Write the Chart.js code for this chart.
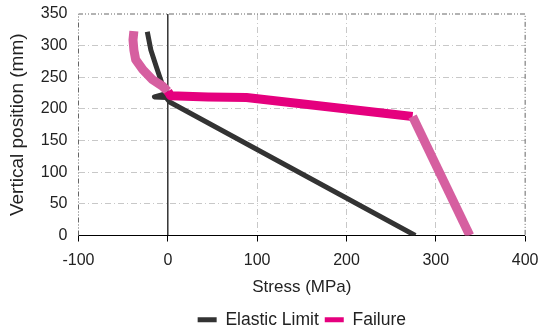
<!DOCTYPE html>
<html>
<head>
<meta charset="utf-8">
<script src="https://cdn.jsdelivr.net/npm/chart.js@4"></script>
<style>
  html, body { margin: 0; padding: 0; background: #fff; }
  #wrap { width: 548px; height: 335px; }
</style>
</head>
<body>
<div id="wrap"><canvas id="chart"></canvas></div>
<script>
// data (stress in MPa, vertical position in mm)
const elasticStress = [-23, -19, -13, -8, -4, -2, -15, -2, 2, 277];
const elasticPos    = [322, 293, 267, 246, 230, 224, 219, 218, 211, 0];

const failureStress = [-38, -39, -38, -36, -28, -17, -6, 0, 3, 45, 88, 274, 338];
const failurePos    = [323, 309, 293, 278, 262, 246, 236, 228, 221, 219, 218, 188, 0];

const seriesNames = ['Elastic Limit', 'Failure'];
const xTicks = [-100, 0, 100, 200, 300, 400];
const yTicks = [0, 50, 100, 150, 200, 250, 300, 350];

const FONT = "'Liberation Sans', Arial, Helvetica, sans-serif";
const TXT = '#222';
const PINK = '#E5007E';
const PINK_SOFT = '#D65FA0';
const DARK = '#333333';

const toPoints = (xs, ys) => xs.map((x, i) => ({ x: x, y: ys[i] }));

// zero lines + dash-dot frame, drawn under the data lines
const framePlugin = {
    id: 'frame',
    beforeDatasetsDraw(chart) {
        const { ctx, chartArea: a, scales: { x, y } } = chart;
        ctx.save();
        ctx.strokeStyle = '#666';
        ctx.lineWidth = 1;
        ctx.setLineDash([5, 2, 1, 2, 1, 2]);
        ctx.beginPath();
        ctx.moveTo(a.left, y.getPixelForValue(0));
        ctx.lineTo(a.left, a.top);
        ctx.lineTo(a.right, a.top);
        ctx.lineTo(a.right, y.getPixelForValue(0));
        ctx.stroke();
        ctx.setLineDash([]);
        ctx.strokeStyle = '#000';
        ctx.lineWidth = 1.2;
        const x0 = x.getPixelForValue(0), y0 = y.getPixelForValue(0);
        ctx.beginPath();
        ctx.moveTo(a.left, y0); ctx.lineTo(a.right, y0);
        ctx.moveTo(x0, a.top); ctx.lineTo(x0, y0);
        ctx.stroke();
        ctx.restore();
    }
};

new Chart(document.getElementById('chart'), {
    type: 'scatter',
    data: {
        datasets: [
            {
                label: seriesNames[0],
                data: toPoints(elasticStress, elasticPos),
                showLine: true,
                borderColor: DARK,
                backgroundColor: DARK,
                legendColor: DARK,
                borderWidth: 5,
                pointRadius: 0,
                tension: 0,
                borderJoinStyle: 'round',
                order: 1
            },
            {
                label: seriesNames[1],
                data: toPoints(failureStress, failurePos),
                showLine: true,
                borderColor: PINK,
                backgroundColor: PINK,
                legendColor: PINK,
                borderWidth: 9,
                pointRadius: 0,
                tension: 0,
                borderJoinStyle: 'round',
                segment: {
                    // curved top part and steep lower part look lighter in the picture
                    borderColor: c => (c.p0DataIndex >= 7 && c.p1DataIndex <= 11) ? PINK : PINK_SOFT
                },
                order: 0
            }
        ]
    },
    options: {
        responsive: true,
        maintainAspectRatio: false,
        animation: false,
        layout: { padding: { top: 14, right: 19, bottom: -3.5, left: 0 } },
        plugins: {
            tooltip: { enabled: false },
            legend: {
                position: 'bottom',
                fullSize: false,
                labels: {
                    font: { family: FONT, size: 17.5 },
                    color: TXT,
                    boxWidth: 19,
                    boxHeight: 5,
                    padding: 6,
                    generateLabels: chart => chart.data.datasets.map((ds, i) => ({
                        text: ds.label,
                        fillStyle: ds.legendColor,
                        strokeStyle: ds.legendColor,
                        lineWidth: 0,
                        hidden: false,
                        datasetIndex: i,
                        fontColor: TXT
                    }))
                }
            }
        },
        scales: {
            x: {
                type: 'linear',
                min: xTicks[0],
                max: xTicks[xTicks.length - 1],
                afterBuildTicks: s => { s.ticks = xTicks.map(v => ({ value: v })); },
                afterFit: s => { s.height = 69.5; },
                ticks: { font: { family: FONT, size: 16 }, color: TXT, padding: 9.5 },
                grid: {
                    color: c => (c.tick && (c.tick.value === -100 || c.tick.value === 0 || c.tick.value === 400)) ? 'rgba(0,0,0,0)' : '#c8c8c8',
                    tickColor: '#000',
                    tickLength: 6,
                    tickWidth: 1,
                    lineWidth: 1
                },
                border: { display: false, dash: [6, 3, 1, 3] },
                title: {
                    display: true,
                    text: 'Stress (MPa)',
                    font: { family: FONT, size: 17 },
                    color: TXT,
                    padding: { top: 0, bottom: 7.3 }
                }
            },
            y: {
                min: yTicks[0],
                max: yTicks[yTicks.length - 1],
                afterBuildTicks: s => { s.ticks = yTicks.map(v => ({ value: v })); },
                afterFit: s => { s.width = 78.5; },
                ticks: { font: { family: FONT, size: 16 }, color: TXT, padding: 3 },
                grid: {
                    color: c => (c.tick && (c.tick.value === 0 || c.tick.value === 350)) ? 'rgba(0,0,0,0)' : '#c8c8c8',
                    drawTicks: true,
                    tickLength: 8,
                    tickColor: 'rgba(0,0,0,0)',
                    lineWidth: 1
                },
                border: { display: false, dash: [6, 3, 1, 3] },
                title: {
                    display: true,
                    text: 'Vertical position (mm)',
                    font: { family: FONT, size: 19 },
                    color: TXT,
                    padding: { top: 6.6, bottom: 0 }
                }
            }
        }
    },
    plugins: [framePlugin]
});
</script>
</body>
</html>
